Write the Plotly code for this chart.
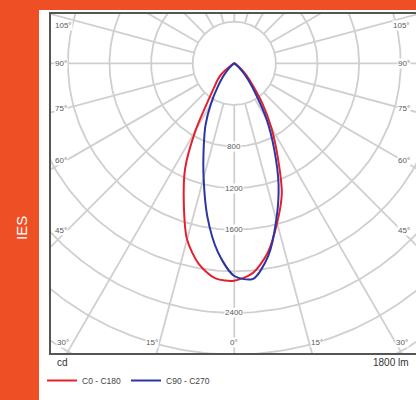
import numpy as np
import plotly.graph_objects as go

# ---------------- data ----------------
gamma_deg = [-60, -55, -50, -45, -40, -35, -30, -25, -20, -15, -10, -5, 0,
             5, 10, 15, 20, 25, 30, 35, 40, 45, 50, 55, 60]
cd_c0_c180 = [0, 50, 160, 230, 300, 440, 745, 1120, 1420, 1755, 1960, 2076, 2090,
              2025, 1850, 1590, 1335, 985, 710, 468, 275, 165, 85, 25, 0]
cd_c90_c270 = [0, 0, 30, 90, 170, 280, 450, 655, 860, 1140, 1495, 1820, 2045,
               2080, 1880, 1560, 1245, 905, 620, 360, 212, 110, 40, 5, 0]
series_names = ["C0 - C180", "C90 - C270"]
series_colors = ["#e5202e", "#2b35a6"]

ring_values = [400, 800, 1200, 1600, 2000, 2400, 2800, 3200, 3600]
ring_labels = [800, 1200, 1600, 2400]
spoke_angles = list(range(0, 360, 15))
left_angle_labels = ["105°", "90°", "75°", "60°", "45°"]
bottom_angle_labels = ["30°", "15°", "0°", "15°", "30°"]
flux_label = "1800 lm"
unit_label = "cd"
side_title = "IES"

# ---------------- layout geometry (pixels) ----------------
W, H = 416, 400
ML, MR, MT, MB = 51, 0, 14, 47
PW, PH = W - ML - MR, H - MT - MB
CX, CY = 234.3, 63.3          # pole position in pixels
K = 0.104                      # pixels per cd

x_range = [(ML - CX) / K, (W - MR - CX) / K]
y_range = [-(H - MB - CY) / K, (CY - MT) / K]

def px2x(px):
    return (px - ML) / PW

def py2y(py):
    return (H - MB - py) / PH

def polar_to_xy(deg, r):
    t = np.radians(np.asarray(deg, dtype=float))
    r = np.asarray(r, dtype=float)
    return r * np.sin(t), -r * np.cos(t)

fig = go.Figure()

# grid circles
gx, gy = [], []
tt = np.linspace(0, 360, 361)
for r in ring_values:
    x, y = polar_to_xy(tt, np.full_like(tt, r))
    gx += list(x) + [None]
    gy += list(y) + [None]
# spokes
for a in spoke_angles:
    x, y = polar_to_xy([a, a], [ring_values[0], 5000])
    gx += list(x) + [None]
    gy += list(y) + [None]
fig.add_trace(go.Scatter(x=gx, y=gy, mode="lines",
                         line=dict(color="#cfcfcf", width=1.8),
                         hoverinfo="skip", showlegend=False))

# photometric curves
for name, vals, col in zip(series_names, [cd_c0_c180, cd_c90_c270], series_colors):
    x, y = polar_to_xy(gamma_deg, vals)
    fig.add_trace(go.Scatter(x=x, y=y, mode="lines", name=name,
                             line=dict(color=col, width=2, shape="spline", smoothing=0.8)))

ann = []
lab_font = dict(family="Liberation Sans, Arial, sans-serif", size=8, color="#5a5a5a")
for r in ring_labels:
    ann.append(dict(x=0, y=-r, xref="x", yref="y", text=str(r), showarrow=False,
                    font=lab_font, bgcolor="white", borderpad=0,
                    xanchor="center", yanchor="middle"))

left_y = [25, 63.5, 108, 160, 230]
for t, py in zip(left_angle_labels, left_y):
    ann.append(dict(x=px2x(54), y=py2y(py), xref="paper", yref="paper", text=t,
                    showarrow=False, font=lab_font, bgcolor="white", borderpad=0,
                    xanchor="left", yanchor="middle"))
    ann.append(dict(x=px2x(411), y=py2y(py), xref="paper", yref="paper", text=t,
                    showarrow=False, font=lab_font, bgcolor="white", borderpad=0,
                    xanchor="right", yanchor="middle"))
bottom_x = [63, 152, 234, 317, 402]
for t, px in zip(bottom_angle_labels, bottom_x):
    ann.append(dict(x=px2x(px), y=py2y(342.5), xref="paper", yref="paper", text=t,
                    showarrow=False, font=lab_font, bgcolor="white", borderpad=0,
                    xanchor="center", yanchor="middle"))

txt_font = dict(family="Liberation Sans, Arial, sans-serif", size=10, color="#333333")
ann.append(dict(x=px2x(55), y=py2y(362.5), xref="paper", yref="paper", text=unit_label,
                showarrow=False, font=txt_font, xanchor="left", yanchor="middle"))
ann.append(dict(x=px2x(411), y=py2y(362), xref="paper", yref="paper", text=flux_label,
                showarrow=False, font=txt_font, xanchor="right", yanchor="middle"))
ann.append(dict(x=px2x(21), y=py2y(228), xref="paper", yref="paper", text=side_title,
                showarrow=False, textangle=-90,
                font=dict(family="Liberation Sans, Arial, sans-serif", size=15, color="white"),
                xanchor="center", yanchor="middle"))

orange = "#ee4f24"
shapes = [
    dict(type="rect", xref="paper", yref="paper", x0=px2x(0), x1=px2x(39),
         y0=py2y(400), y1=py2y(0), fillcolor=orange, line=dict(width=0), layer="below"),
    dict(type="rect", xref="paper", yref="paper", x0=px2x(0), x1=px2x(416),
         y0=py2y(10), y1=py2y(0), fillcolor=orange, line=dict(width=0), layer="below"),
]

fig.update_layout(
    width=W, height=H,
    margin=dict(l=ML, r=MR, t=MT, b=MB, pad=0),
    paper_bgcolor="white", plot_bgcolor="white",
    xaxis=dict(range=x_range, showgrid=False, zeroline=False, showticklabels=False,
               ticks="", showline=True, linecolor="#555555", linewidth=1.5, mirror=True,
               fixedrange=True),
    yaxis=dict(range=y_range, showgrid=False, zeroline=False, showticklabels=False,
               ticks="", showline=True, linecolor="#555555", linewidth=1.5, mirror=False,
               fixedrange=True),
    showlegend=True,
    legend=dict(orientation="h", x=px2x(42), y=py2y(366), xanchor="left", yanchor="top",
                font=dict(family="Liberation Sans, Arial, sans-serif", size=8.5, color="#444444"),
                bgcolor="rgba(0,0,0,0)", borderwidth=0, itemwidth=30),
    annotations=ann,
    shapes=shapes,
)

fig.write_html("out.html", config={"displayModeBar": False},
               post_script="document.body.style.margin='0';document.body.style.overflow='hidden';")
